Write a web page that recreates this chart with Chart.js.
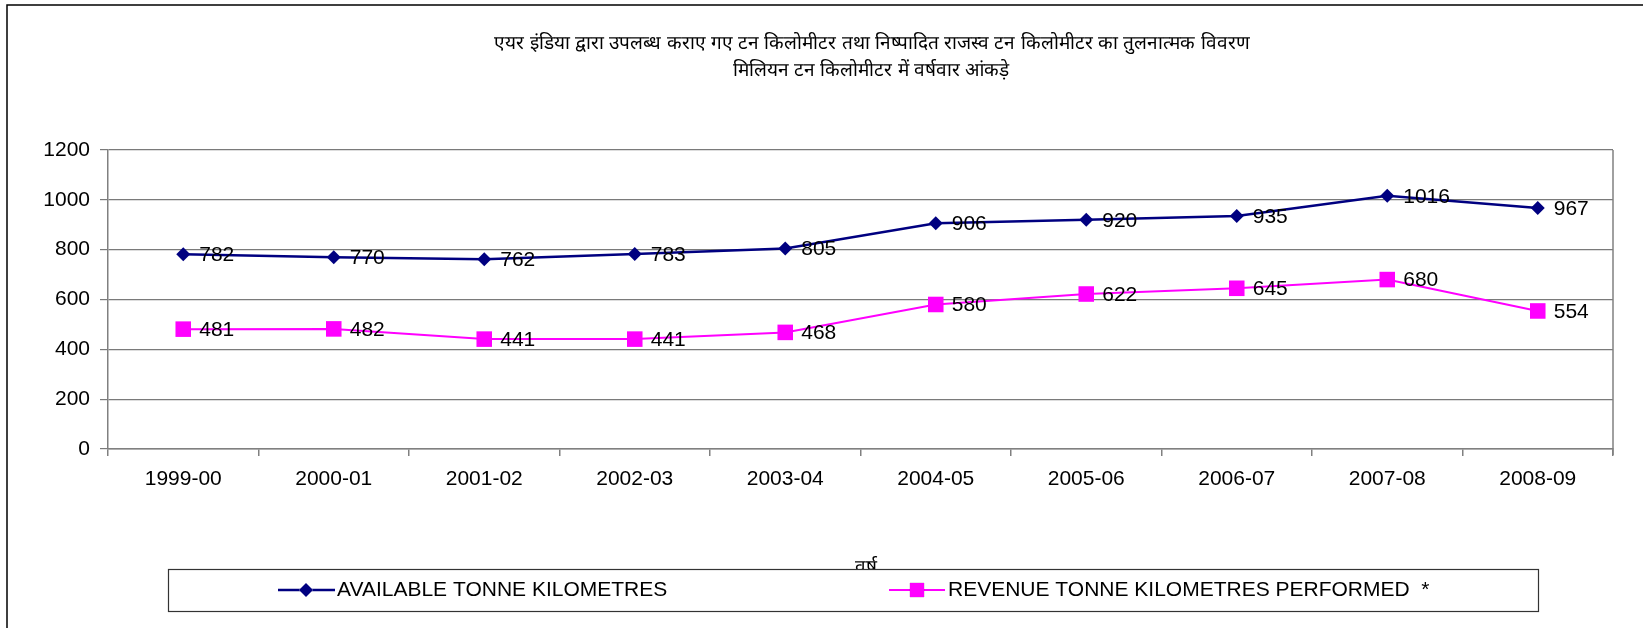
<!DOCTYPE html>
<html>
<head>
<meta charset="utf-8">
<script src="https://cdn.jsdelivr.net/npm/chart.js@4.4.1/dist/chart.umd.min.js"></script>
<style>
  html, body { margin: 0; padding: 0; background: #fff; }
  #wrap { width: 1643px; height: 628px; }
</style>
</head>
<body>
<div id="wrap"><canvas id="tkmChart" width="1643" height="628"></canvas></div>
<script>
// data
const years = ['1999-00', '2000-01', '2001-02', '2002-03', '2003-04', '2004-05', '2005-06', '2006-07', '2007-08', '2008-09'];
const availableTkm = [782, 770, 762, 783, 805, 906, 920, 935, 1016, 967];
const revenueTkm = [481, 482, 441, 441, 468, 580, 622, 645, 680, 554];
const seriesNames = ['AVAILABLE TONNE KILOMETRES', 'REVENUE TONNE KILOMETRES PERFORMED  *'];
const titleLines = [
  'एयर इंडिया द्वारा उपलब्ध कराए गए टन किलोमीटर तथा निष्पादित राजस्व टन किलोमीटर का तुलनात्मक विवरण',
  'मिलियन टन किलोमीटर में वर्षवार आंकड़े'
];
const xTitle = 'वर्ष';

const FONT = '"Liberation Sans", Arial, sans-serif';

// frame, titles, legend box and point labels
const extras = {
  id: 'extras',
  afterDatasetsDraw(chart) {
    const ctx = chart.ctx;
    ctx.save();
    ctx.font = '21px ' + FONT;
    ctx.fillStyle = '#000';
    ctx.textAlign = 'left';
    ctx.textBaseline = 'middle';
    chart.data.datasets.forEach((ds, i) => {
      chart.getDatasetMeta(i).data.forEach((pt, j) => {
        ctx.fillText(String(ds.data[j]), pt.x + 16, pt.y + 1);
      });
    });
    ctx.restore();
  },
  afterDraw(chart) {
    const ctx = chart.ctx;
    const area = chart.chartArea;
    ctx.save();

    // outer frame (top + left)
    ctx.strokeStyle = '#000';
    ctx.lineWidth = 1.5;
    ctx.beginPath();
    ctx.moveTo(7, 628);
    ctx.lineTo(7, 5);
    ctx.lineTo(1643, 5);
    ctx.stroke();

    // right edge of plot
    ctx.strokeStyle = '#808080';
    ctx.lineWidth = 1.5;
    ctx.beginPath();
    ctx.moveTo(area.right, area.top);
    ctx.lineTo(area.right, area.bottom + 6);
    ctx.stroke();

    // title
    ctx.fillStyle = '#000';
    ctx.textAlign = 'center';
    ctx.textBaseline = 'middle';
    ctx.font = '19px ' + FONT;
    ctx.fillText(titleLines[0], 872, 44);
    ctx.fillText(titleLines[1], 871, 71);

    // x axis title (partly under the legend)
    ctx.fillText(xTitle, 866, 568);

    // legend box
    ctx.fillStyle = '#fff';
    ctx.fillRect(168, 569, 1370, 42);
    ctx.strokeStyle = '#333';
    ctx.lineWidth = 1.2;
    ctx.strokeRect(168.5, 569.5, 1370, 42);

    const items = [
      { x1: 278, x2: 335, mx: 306, tx: 337 },
      { x1: 889, x2: 945, mx: 917, tx: 948 }
    ];
    const ly = 590;
    chart.data.datasets.forEach((ds, i) => {
      const it = items[i];
      ctx.strokeStyle = ds.borderColor;
      ctx.lineWidth = ds.borderWidth;
      ctx.beginPath();
      ctx.moveTo(it.x1, ly);
      ctx.lineTo(it.x2, ly);
      ctx.stroke();
      Chart.helpers.drawPoint(ctx, {
        pointStyle: ds.pointStyle,
        radius: i === 0 ? 7 : 10,
        borderWidth: 0
      }, it.mx, ly);
      ctx.fillStyle = ds.pointBackgroundColor;
      ctx.fill();
      ctx.fillStyle = '#000';
      ctx.textAlign = 'left';
      ctx.font = '21px ' + FONT;
      ctx.fillText(ds.label, it.tx, ly);
    });

    ctx.restore();
  }
};

new Chart(document.getElementById('tkmChart'), {
  type: 'line',
  data: {
    labels: years,
    datasets: [
      {
        label: seriesNames[0],
        data: availableTkm,
        borderColor: '#000080',
        backgroundColor: '#000080',
        pointBackgroundColor: '#000080',
        pointBorderColor: '#000080',
        borderWidth: 2.5,
        pointStyle: 'rectRot',
        pointRadius: 7,
        pointBorderWidth: 0,
        tension: 0
      },
      {
        label: seriesNames[1],
        data: revenueTkm,
        borderColor: '#FF00FF',
        backgroundColor: '#FF00FF',
        pointBackgroundColor: '#FF00FF',
        pointBorderColor: '#FF00FF',
        borderWidth: 2,
        pointStyle: 'rect',
        pointRadius: 11,
        pointBorderWidth: 0,
        tension: 0
      }
    ]
  },
  options: {
    responsive: false,
    animation: false,
    layout: { padding: { top: 150, left: 0, right: 30, bottom: 0 } },
    plugins: {
      legend: { display: false },
      title: { display: false },
      tooltip: { enabled: false }
    },
    scales: {
      x: {
        offset: true,
        afterFit: s => { s.height = 179; },
        grid: { offset: true, drawOnChartArea: false, drawTicks: true, tickLength: 7, color: '#808080', lineWidth: 1.5 },
        border: { color: '#808080', width: 1.5 },
        ticks: { color: '#000', padding: 11, font: { size: 21, family: FONT }, maxRotation: 0 }
      },
      y: {
        min: 0,
        max: 1200,
        afterFit: s => { s.width = 108; },
        grid: { color: '#7a7a7a', lineWidth: 1.2, tickLength: 8 },
        border: { color: '#808080', width: 1.5 },
        ticks: {
          stepSize: 200,
          color: '#000',
          padding: 10,
          font: { size: 21, family: FONT },
          callback: v => String(v)
        }
      }
    }
  },
  plugins: [extras]
});
</script>
</body>
</html>
